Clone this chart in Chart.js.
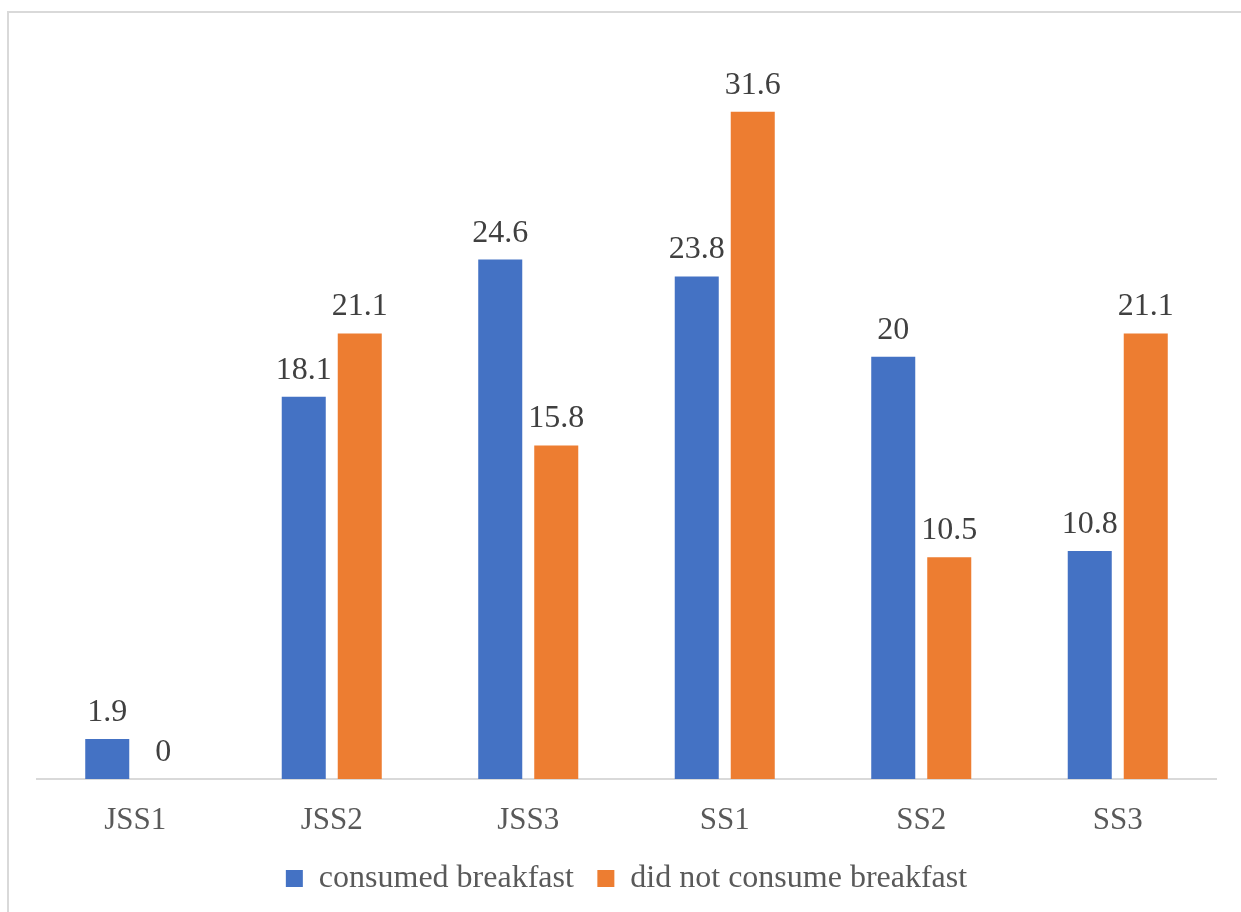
<!DOCTYPE html>
<html>
<head>
<meta charset="utf-8">
<script src="https://cdn.jsdelivr.net/npm/chart.js@4"></script>
<style>
  html, body { margin: 0; padding: 0; background: #fff; }
  #wrap { position: relative; width: 1241px; height: 912px; overflow: hidden; }
  #frame { position: absolute; left: 7px; top: 11px; width: 1250px; height: 920px; border: 2px solid #d9d9d9; box-sizing: border-box; }
  #chart { position: absolute; left: 0; top: 0; }
</style>
</head>
<body>
<div id="wrap">
  <div id="frame"></div>
  <canvas id="chart" width="1241" height="912"></canvas>
</div>
<script>
// datos del grafico
var clases = ['JSS1', 'JSS2', 'JSS3', 'SS1', 'SS2', 'SS3'];
var desayuno = [1.9, 18.1, 24.6, 23.8, 20, 10.8];
var sinDesayuno = [0, 21.1, 15.8, 31.6, 10.5, 21.1];

var fuente = '"Liberation Serif", "Times New Roman", serif';

// etiquetas encima de cada barra
var etiquetas = {
    id: 'etiquetas',
    afterDatasetsDraw: function(chart) {
        var ctx = chart.ctx;
        ctx.save();
        ctx.font = '32px ' + fuente;
        ctx.fillStyle = '#404040';
        ctx.textAlign = 'center';
        ctx.textBaseline = 'alphabetic';
        chart.data.datasets.forEach(function(ds, i) {
            chart.getDatasetMeta(i).data.forEach(function(bar, j) {
                ctx.fillText(String(ds.data[j]), bar.x, bar.y - 18);
            });
        });
        ctx.restore();
    }
};

var grafica = new Chart(document.getElementById('chart').getContext('2d'), {
    type: 'bar',
    data: {
        labels: clases,
        datasets: [{
            label: 'consumed breakfast',
            data: desayuno,
            backgroundColor: '#4472C4',
            barPercentage: 0.786,
            categoryPercentage: 0.57
        }, {
            label: 'did not consume breakfast',
            data: sinDesayuno,
            backgroundColor: '#ED7D31',
            barPercentage: 0.786,
            categoryPercentage: 0.57
        }]
    },
    options: {
        responsive: false,
        animation: false,
        layout: {
            padding: { left: 37, right: 25, top: 40, bottom: 7.5 }
        },
        scales: {
            x: {
                grid: { display: false },
                border: { color: '#d9d9d9', width: 2 },
                ticks: {
                    color: '#595959',
                    padding: 15,
                    font: { family: fuente, size: 31 }
                },
                afterFit: function(scale) { scale.height = 60; }
            },
            y: {
                display: false,
                min: 0,
                max: 35
            }
        },
        plugins: {
            legend: {
                position: 'bottom',
                labels: {
                    color: '#595959',
                    boxWidth: 17,
                    boxHeight: 17,
                    padding: 23.5,
                    font: { family: fuente, size: 32 }
                }
            },
            tooltip: { enabled: false }
        }
    },
    plugins: [etiquetas]
});
</script>
</body>
</html>
